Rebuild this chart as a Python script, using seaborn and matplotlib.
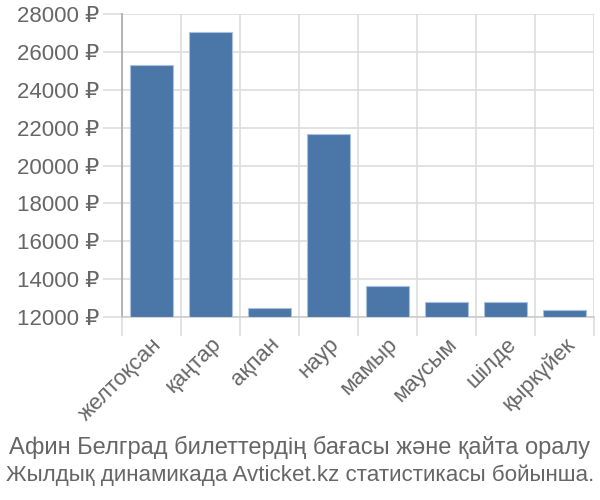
import matplotlib
matplotlib.use("Agg")
import matplotlib.pyplot as plt
import seaborn as sns
import pandas as pd
import numpy as np
from matplotlib.ticker import FuncFormatter, FixedLocator

months = ["желтоқсан", "қаңтар", "ақпан", "наур", "мамыр", "маусым", "шілде", "қыркүйек"]
prices = [25300, 27050, 12480, 21650, 13640, 12790, 12790, 12370]
y_ticks = [12000, 14000, 16000, 18000, 20000, 22000, 24000, 26000, 28000]
title_lines = ["Афин Белград билеттердің бағасы және қайта оралу",
               "Жылдық динамикада Avticket.kz статистикасы бойынша."]

sns.set_theme(style="white")
plt.rcParams['font.family'] = ['Liberation Sans', 'DejaVu Sans']

df = pd.DataFrame({"month": months, "price": prices})
base = y_ticks[0]

fig = plt.figure(figsize=(6, 5), dpi=100)
ax = fig.add_axes([0.203, 0.366, 0.787, 0.606])

sns.barplot(data=df, x="month", y="price", ax=ax, color="#4a76a8",
            saturation=1, width=0.72, bottom=base,
            edgecolor="#a9c1e0", linewidth=0.8, zorder=3)
for patch, v in zip(ax.patches, prices):
    patch.set_height(v - base)

ax.set_ylim(base, y_ticks[-1])
ax.set_xlim(-0.5, len(months) - 0.5)
ax.set_yticks(y_ticks)
ax.yaxis.set_major_formatter(FuncFormatter(lambda v, p: f"{int(v)} ₽"))
ax.set_xlabel("")
ax.set_ylabel("")

ax.xaxis.set_minor_locator(FixedLocator(np.arange(-0.5, len(months), 1.0)))
ax.grid(True, axis="y", which="major", color="#dddddd", linewidth=1.2, zorder=0)
ax.grid(True, axis="x", which="minor", color="#dddddd", linewidth=1.2, zorder=0)
ax.grid(False, axis="x", which="major")
ax.set_axisbelow(True)

for s in ["top", "right"]:
    ax.spines[s].set_visible(False)
ax.spines["left"].set_color("#aaaaaa")
ax.spines["left"].set_linewidth(1.2)
ax.spines["bottom"].set_color("#cccccc")
ax.spines["bottom"].set_linewidth(1.2)

ax.tick_params(axis="y", which="major", length=14, width=1.2, color="#dddddd",
               labelsize=16, labelcolor="#666666", pad=2, left=True)
ax.tick_params(axis="x", which="minor", length=14, width=1.2, color="#dddddd",
               bottom=True)
ax.tick_params(axis="x", which="major", length=0, pad=12,
               labelsize=16, labelcolor="#666666")
mt = ax.xaxis.get_minor_ticks()
if mt:
    mt[0].tick1line.set_color("#aaaaaa")

for lbl in ax.get_xticklabels():
    lbl.set_rotation(45)
    lbl.set_ha("right")
    lbl.set_va("top")
    lbl.set_rotation_mode("anchor")

fig.text(0.5, 1 - 447 / 500, title_lines[0], ha="center", va="center",
         fontsize=17.0, color="#666666")
fig.text(0.5, 1 - 475 / 500, title_lines[1], ha="center", va="center",
         fontsize=16.1, color="#666666")

fig.savefig("out.png", dpi=100)
